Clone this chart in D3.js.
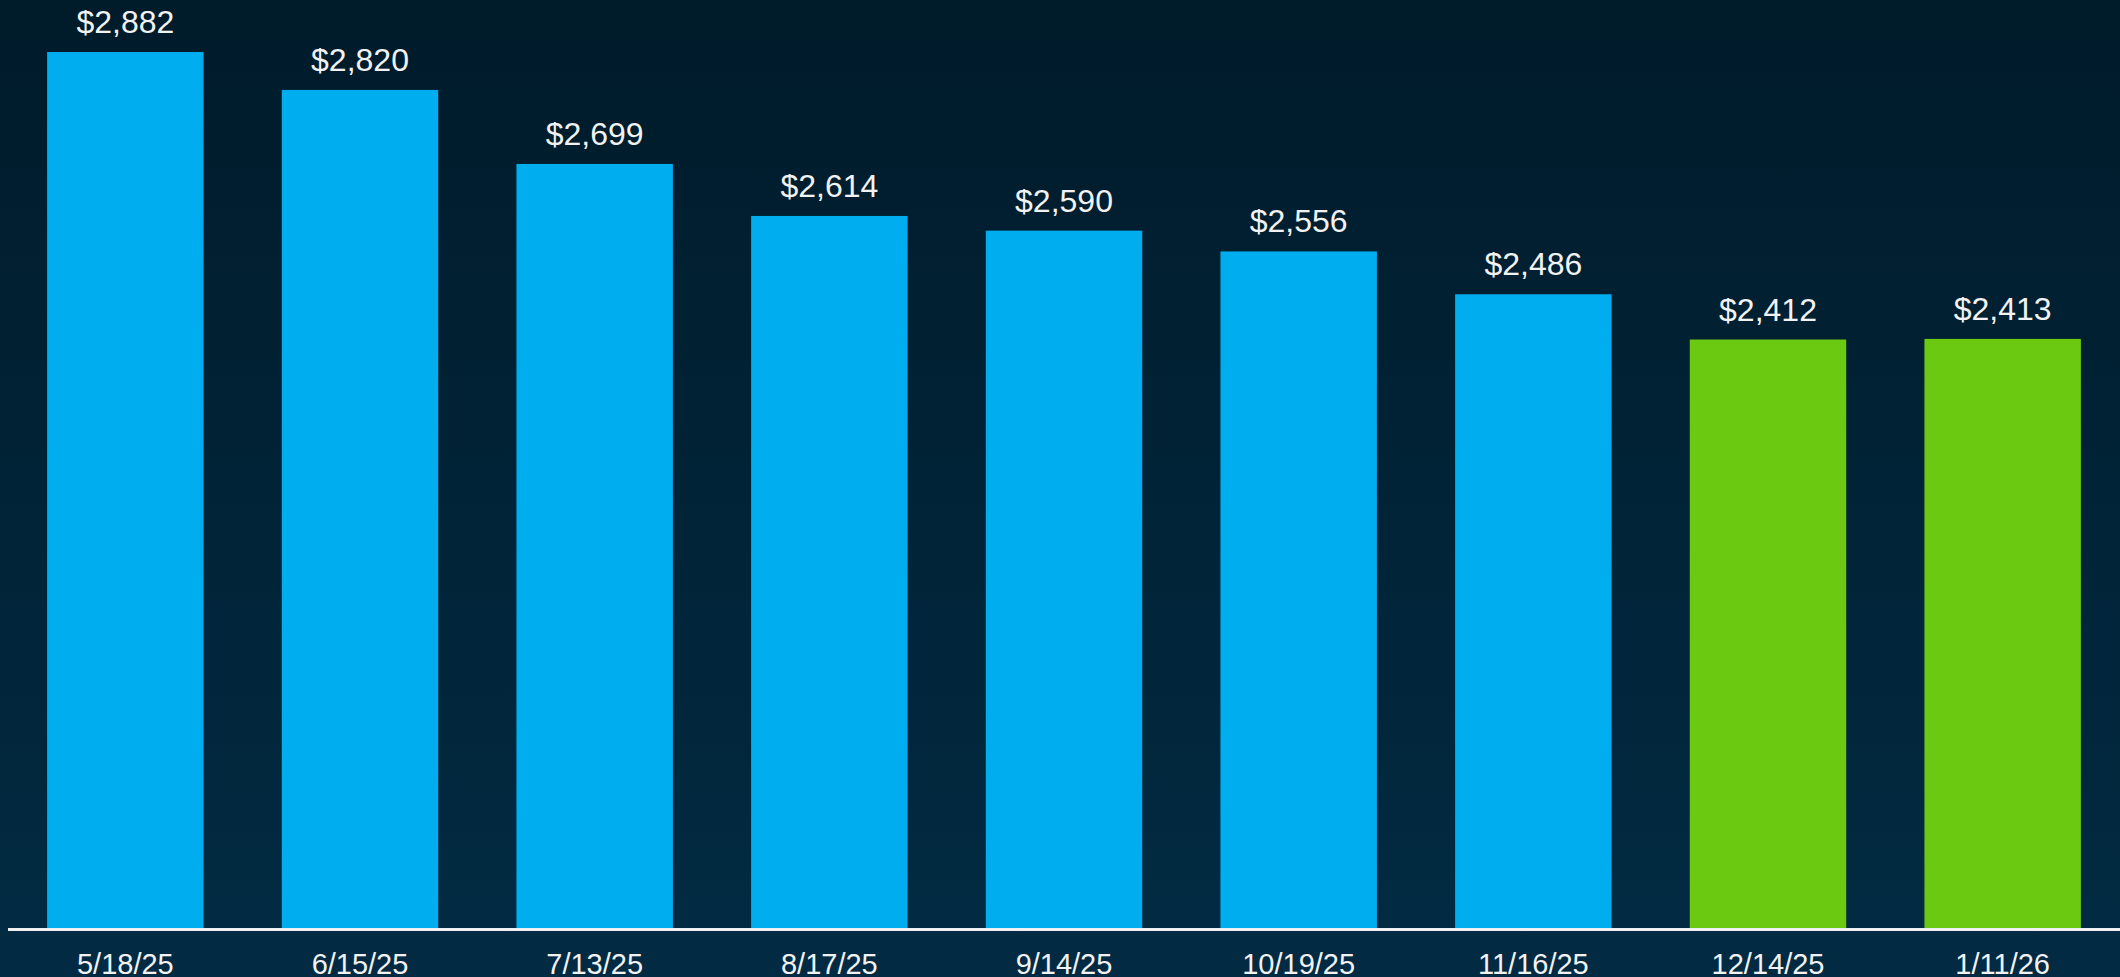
<!DOCTYPE html>
<html><head><meta charset="utf-8">
<script src="https://cdn.jsdelivr.net/npm/d3@7"></script>
<style>html,body{margin:0;padding:0;overflow:hidden;background:#011c2b}</style>
</head><body>
<svg id="chart" width="2120" height="977"></svg>
<script>
const categories = ["5/18/25","6/15/25","7/13/25","8/17/25","9/14/25","10/19/25","11/16/25","12/14/25","1/11/26"];
const values = [2882, 2820, 2699, 2614, 2590, 2556, 2486, 2412, 2413];
const highlighted = [false, false, false, false, false, false, false, true, true];

const W = 2120, H = 977;
const svg = d3.select("#chart");
const defs = svg.append("defs");
const grad = defs.append("linearGradient").attr("id","bg").attr("x1",0).attr("y1",0).attr("x2",0).attr("y2",1);
grad.append("stop").attr("offset","0%").attr("stop-color","#001b2a");
grad.append("stop").attr("offset","100%").attr("stop-color","#022b43");
svg.append("rect").attr("width",W).attr("height",H).attr("fill","url(#bg)");

const x = d3.scaleBand().domain(categories).range([8, 2120]).paddingInner(1/3).paddingOuter(1/6);
const y = d3.scaleLinear().domain([1450, 2900]).range([928, 41]);

const data = categories.map((c,i)=>({c, v:values[i], h:highlighted[i]}));

svg.append("g").selectAll("rect").data(data).join("rect")
  .attr("x", d=>x(d.c)).attr("width", x.bandwidth())
  .attr("y", d=>y(d.v)).attr("height", d=>y(1450)-y(d.v))
  .attr("fill", d=>d.h ? "#6cc912" : "#00adef");

svg.append("g").selectAll("text").data(data).join("text")
  .attr("x", d=>x(d.c)+x.bandwidth()/2).attr("y", d=>y(d.v)-19)
  .attr("text-anchor","middle").attr("fill","#f2f2f2")
  .attr("font-family","Liberation Sans, Arial, sans-serif").attr("font-size",32)
  .text(d=>"$"+d3.format(",")(d.v));

// axis
const axis = d3.axisBottom(x).tickSize(0).tickPadding(0);
const ag = svg.append("g").attr("transform","translate(0,929.5)").call(axis);
ag.select(".domain").attr("stroke","#f0f0f0").attr("stroke-width",3).attr("d","M8,0H2120");
ag.selectAll(".tick text").attr("fill","#f2f2f2").attr("font-family","Liberation Sans, Arial, sans-serif")
  .attr("font-size",29).attr("dy",0).attr("y",44);
</script>
</body></html>
